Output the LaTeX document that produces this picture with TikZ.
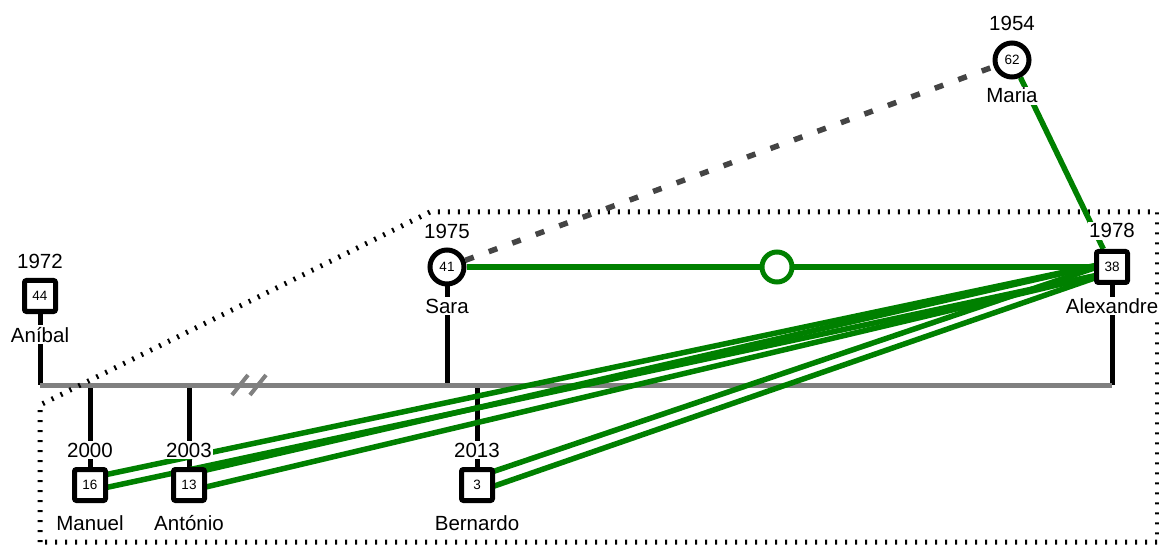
\documentclass[tikz,border=0pt]{standalone}
\usepackage{fontspec}
\setmainfont{Liberation Sans}
\usetikzlibrary{calc,backgrounds}
\definecolor{gline}{RGB}{0,128,0}
\definecolor{barg}{RGB}{128,128,128}
\definecolor{dgray}{RGB}{68,68,68}
\begin{document}
\begin{tikzpicture}[x=1pt,y=-1pt,
  male/.style={draw, line width=5pt, fill=white, minimum size=31pt, inner sep=0pt, rounded corners=2pt, font=\fontsize{13.5}{14}\selectfont},
  female/.style={circle, draw, line width=5pt, fill=white, minimum size=34pt, inner sep=0pt, font=\fontsize{13.5}{14}\selectfont},
  lbl/.style={fill=white, inner sep=1.5pt, anchor=base, font=\fontsize{20.5}{22}\selectfont},
  kidline/.style={line width=5pt, black},
  barline/.style={line width=5pt, barg},
  brkline/.style={line width=4pt, barg},
  gl/.style={line width=5.5pt, gline},
  dashgray/.style={line width=5.5pt, dgray, dash pattern=on 9pt off 16pt},
  bound/.style={line width=5pt, black, dash pattern=on 2pt off 8pt},
  midc/.style={circle, draw=gline, line width=5pt, fill=white, minimum size=30pt, inner sep=0pt}
]
\useasboundingbox (0,0) rectangle (1159,545);

% persons
\node[male] (anibal) at (40,296) {44};
\node[female] (sara) at (447,267) {41};
\node[male] (alex) at (1112,267) {38};
\node[female] (maria) at (1012,60) {62};
\node[male] (manuel) at (90,485) {16};
\node[male] (antonio) at (189,485) {13};
\node[male] (bernardo) at (477,485) {3};

% labels
\node[lbl] (anibalY) at ($(anibal)+(0,-27)$) {1972};
\node[lbl] (anibalN) at ($(anibal)+(0,46)$) {Aníbal};
\node[lbl] (saraY) at ($(sara)+(0,-28)$) {1975};
\node[lbl] (saraN) at ($(sara)+(0,46)$) {Sara};
\node[lbl] (alexY) at ($(alex)+(0,-29)$) {1978};
\node[lbl] (alexN) at ($(alex)+(0,46)$) {Alexandre};
\node[lbl] (mariaY) at ($(maria)+(0,-29)$) {1954};
\node[lbl] (mariaN) at ($(maria)+(0,43)$) {Maria};
\node[lbl] (manuelY) at ($(manuel)+(0,-28)$) {2000};
\node[lbl] (manuelN) at ($(manuel)+(0,45)$) {Manuel};
\node[lbl] (antonioY) at ($(antonio)+(0,-28)$) {2003};
\node[lbl] (antonioN) at ($(antonio)+(0,45)$) {António};
\node[lbl] (bernardoY) at ($(bernardo)+(0,-28)$) {2013};
\node[lbl] (bernardoN) at ($(bernardo)+(0,45)$) {Bernardo};

\node[midc] (mid) at (777,267) {};

% bar coordinates
\coordinate (bL) at (40,385);
\coordinate (bR) at (1112,385);
\coordinate (bM) at (90,385);
\coordinate (bA) at (189,385);
\coordinate (bS) at (447,385);
\coordinate (bB) at (477,385);
\coordinate (brk1) at (240,385);
\coordinate (brk2) at (258,385);

% boundary coordinates
\coordinate (d1) at (40,542);
\coordinate (d2) at (40,405);
\coordinate (d3) at (430,212);
\coordinate (d4) at (1157.5,212);
\coordinate (d5) at (1157.5,542);

\begin{scope}[on background layer]
  \draw[kidline] (anibal) -- (bL);
  \draw[kidline] (sara) -- (bS);
  \draw[kidline] (alex) -- (bR);
  \draw[kidline] (bM) -- (manuel);
  \draw[kidline] (bA) -- (antonio);
  \draw[kidline] (bB) -- (bernardo);
  \draw[barline] (bL) -- (bR);
  \draw[brkline] ($(brk1)+(-8,10)$) -- ($(brk1)+(8,-10)$);
  \draw[brkline] ($(brk2)+(-8,10)$) -- ($(brk2)+(8,-10)$);
  \draw[bound] (d1) -- (d2) -- (d3) -- (d4) -- (d5) -- cycle;
  \draw[dashgray] (sara) -- (maria);
  \draw[gl] (sara) -- (alex);
  \draw[gl] (maria) -- (alex);
  \draw[gl] ($(manuel)+(0,-7)$) -- ($(alex)+(0,-5)$);
  \draw[gl] ($(manuel)+(0,6)$) -- ($(alex)+(0,5)$);
  \draw[gl] ($(antonio)+(0,-11)$) -- ($(alex)+(0,-5)$);
  \draw[gl] ($(antonio)+(0,6)$) -- ($(alex)+(0,5)$);
  \draw[gl] ($(bernardo)+(0,-8)$) -- ($(alex)+(0,-5)$);
  \draw[gl] ($(bernardo)+(0,7)$) -- ($(alex)+(0,5)$);
\end{scope}
\end{tikzpicture}
\end{document}
